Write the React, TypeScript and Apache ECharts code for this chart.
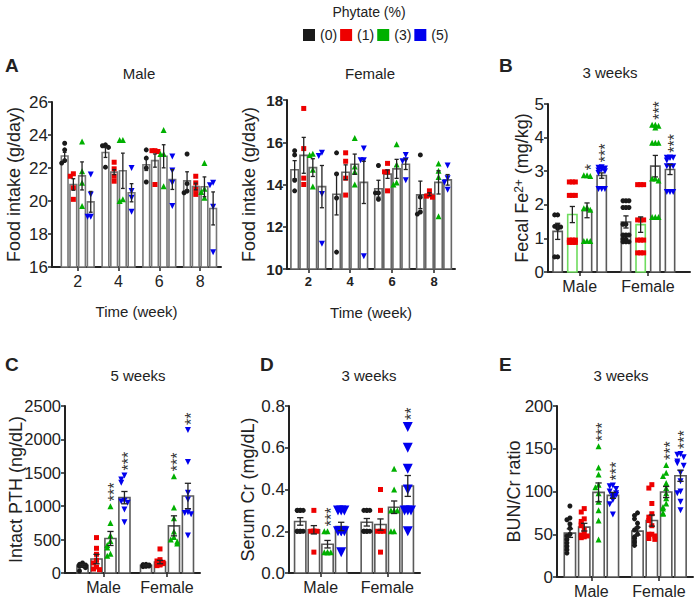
import React, { useEffect, useRef } from "react";
import * as echarts from "echarts";

const FONT = "'Liberation Sans', Arial, Helvetica, sans-serif";
const INK = "#222222";

const GROUPS = ["(0)", "(1)", "(3)", "(5)"];
const COLORS = ["#1a1a1a", "#ee0000", "#00b000", "#0000ee"];
const SYMBOLS = ["circle", "rect", "triangle", "triangle"];
const SYMBOL_ROT = [0, 0, 0, 180];

const WEEKS = ["2", "4", "6", "8"];
const SEXES = ["Male", "Female"];

// ---------- A: Food intake, male (by group, by week) ----------
const A_MALE_MEAN = [
  [22.73, 22.94, 22.2, 21.22],
  [21.0, 21.75, 22.45, 20.88],
  [21.52, 21.83, 22.71, 20.86],
  [19.95, 20.5, 21.3, 19.55],
];
const A_MALE_SEM = [
  [0.22, 0.3, 0.35, 0.55],
  [0.35, 0.15, 0.4, 0.2],
  [0.85, 1.07, 0.7, 0.6],
  [0.63, 0.55, 0.6, 1.0],
];
const A_MALE_PTS = [
  [[23.5, 23.1, 22.45, 22.3], [23.4, 23.35, 23.25, 22.05], [23.1, 22.6, 22.0, 21.15], [22.85, 21.05, 20.6, 20.5]],
  [[21.65, 21.5, 20.8, 20.1], [22.35, 21.95, 21.5, 21.2], [23.05, 23.05, 23.0, 21.0], [21.5, 21.1, 20.7, 20.4]],
  [[23.6, 21.8, 21.1, 19.7], [23.7, 23.7, 20.1, 20.0], [24.3, 22.85, 22.85, 20.9], [22.3, 20.75, 20.55, 20.2]],
  [[21.6, 20.4, 19.05, 19.05], [22.0, 20.6, 20.2, 19.35], [22.7, 21.85, 21.1, 19.7], [21.1, 20.95, 19.65, 16.9]],
];

// ---------- A: Food intake, female ----------
const A_FEMALE_MEAN = [
  [14.7, 13.54, 13.8, 13.51],
  [15.38, 14.58, 14.49, 13.54],
  [14.8, 14.96, 14.74, 14.1],
  [13.9, 14.1, 14.96, 14.22],
];
const A_FEMALE_SEM = [
  [0.43, 0.98, 0.4, 0.65],
  [0.85, 0.35, 0.2, 0.07],
  [0.42, 0.48, 0.45, 0.55],
  [1.0, 1.0, 0.25, 0.25],
];
const A_FEMALE_PTS = [
  [[15.6, 15.4, 14.2, 13.7], [15.5, 14.5, 13.36, 10.8], [14.9, 13.6, 13.6, 13.3], [15.4, 13.4, 12.7, 12.6]],
  [[17.6, 15.7, 14.3, 14.0], [15.5, 15.1, 14.3, 13.5], [15.0, 14.6, 14.6, 13.7], [13.7, 13.5, 13.45, 13.4]],
  [[15.45, 15.4, 14.7, 13.9], [16.2, 14.85, 14.6, 14.0], [15.9, 14.95, 14.1, 14.0], [15.0, 14.65, 14.35, 12.5]],
  [[15.5, 15.35, 13.55, 11.2], [15.7, 15.15, 15.15, 10.6], [15.4, 15.15, 15.1, 14.2], [14.9, 14.3, 14.1, 13.75]],
];

// ---------- B: Fecal Fe2+, 3 weeks (by group, [male, female]) ----------
const B_MEAN = [[1.21, 1.49], [1.71, 1.41], [1.835, 3.15], [2.87, 3.05]];
const B_SEM = [[0.24, 0.18], [0.24, 0.23], [0.22, 0.32], [0.08, 0.15]];
const B_PTS = [
  [[1.7, 1.7, 1.38, 1.36, 1.34, 1.3, 0.45, 0.45],
   [2.12, 2.12, 2.12, 1.92, 1.92, 1.92, 1.42, 1.42, 1.1, 1.1, 1.1, 0.98, 0.98, 0.9, 0.9, 0.9]],
  [[2.68, 2.68, 2.68, 2.28, 2.28, 2.28, 0.95, 0.95, 0.95, 0.88, 0.88, 0.88],
   [2.6, 2.6, 2.6, 1.55, 1.55, 1.55, 0.95, 0.95, 0.95, 0.57, 0.57, 0.57]],
  [[2.88, 2.88, 2.86, 1.93, 1.9, 1.85, 0.93, 0.92, 0.92],
   [4.38, 4.38, 4.35, 4.3, 3.85, 3.85, 3.85, 2.78, 2.78, 2.72, 1.64, 1.64, 1.64]],
  [[3.12, 3.1, 3.08, 3.05, 3.02, 3.0, 2.95, 2.47, 2.47, 2.47],
   [3.4, 3.4, 3.4, 3.4, 3.32, 3.15, 3.15, 3.15, 2.38, 2.38, 2.38]],
];
const B_SIG = [["", ""], ["", ""], ["*", "***"], ["***", "***"]];

// ---------- C: Intact PTH, 5 weeks ----------
const C_MEAN = [[114, 114], [209, 164], [517, 706], [1128, 1153]];
const C_SEM = [[15, 8], [70, 25], [105, 150], [92, 190]];
const C_PTS = [
  [[150, 130, 120, 110, 100, 95, 80, 30], [130, 125, 120, 115, 110, 105, 100, 95]],
  [[530, 370, 280, 190, 150, 90, 60, 50], [360, 200, 180, 160, 140, 130, 120, 110]],
  [[1000, 750, 560, 480, 420, 380, 290, 260], [1450, 980, 820, 620, 540, 500, 470, 440]],
  [[1460, 1400, 1350, 1080, 1070, 1050, 950, 760], [2140, 1660, 1200, 1100, 910, 900, 880, 560]],
];
const C_SIG = [["", ""], ["", ""], ["***", "***"], ["***", "**"]];

// ---------- D: Serum Cr, 3 weeks ----------
const D_MEAN = [[0.247, 0.243], [0.207, 0.232], [0.138, 0.315], [0.223, 0.417]];
const D_SEM = [[0.018, 0.018], [0.02, 0.027], [0.018, 0.03], [0.02, 0.05]];
const D_PTS = [
  [[0.3, 0.3, 0.3, 0.3, 0.3, 0.2, 0.2, 0.2, 0.2, 0.2], [0.3, 0.3, 0.3, 0.3, 0.2, 0.2, 0.2, 0.2, 0.2]],
  [[0.3, 0.2, 0.2, 0.2, 0.2, 0.1], [0.4, 0.3, 0.2, 0.2, 0.2, 0.1]],
  [[0.2, 0.2, 0.1, 0.1, 0.1, 0.1], [0.5, 0.4, 0.3, 0.3, 0.3, 0.2, 0.2]],
  [[0.3, 0.3, 0.3, 0.2, 0.2, 0.2, 0.2, 0.1], [0.7, 0.6, 0.5, 0.4, 0.3, 0.3, 0.3, 0.2]],
];
const D_SIG = [["", ""], ["", ""], ["***", ""], ["", "**"]];

// ---------- E: BUN/Cr ratio, 3 weeks ----------
const E_MEAN = [[51.3, 53.6], [58.3, 66], [99, 99.4], [95.5, 118.4]];
const E_SEM = [[5, 4.5], [4.5, 6.5], [11, 6.5], [3.5, 6.5]];
const E_PTS = [
  [[83, 69, 67, 62, 57, 50, 48, 44, 40, 36, 32, 28], [75, 72, 68, 63, 58, 55, 50, 47, 45, 42, 40, 37]],
  [[80, 76, 68, 65, 62, 60, 55, 50, 49, 48, 47, 46], [108, 104, 86, 74, 70, 66, 60, 50, 50, 48, 45, 44]],
  [[153, 128, 120, 108, 105, 98, 88, 78, 66, 44], [131, 122, 118, 110, 104, 98, 92, 86, 82, 80, 75, 74]],
  [[107, 106, 103, 100, 98, 96, 95, 94, 92, 90, 85, 73], [144, 143, 140, 135, 133, 130, 122, 112, 100, 98, 88, 78]],
];
const E_SIG = [["", ""], ["", ""], ["***", "***"], ["***", "***"]];

type Panel = {
  cats: string[];
  mean: number[][];
  sem: number[][];
  pts: number[][][];
  sig?: string[][];
  left: number; top: number; width: number; height: number;
  catPx: number; xMin: number;
  yMin: number; yMax: number; yInt: number; yDec: number;
  barW: number; step: number;
  yName: string; yNameGap: number; yRich?: any;
  xName?: string; xNameGap?: number;
  bold?: boolean; xFont: number; yFont: number;
  sym: number[];
  border?: string[];
};

const BORDER = "#5a5a5a";

const PANELS: Panel[] = [
  {
    cats: WEEKS, mean: A_MALE_MEAN, sem: A_MALE_SEM, pts: A_MALE_PTS,
    left: 52, top: 102, width: 169, height: 165, catPx: 40.8, xMin: -0.63,
    yMin: 16, yMax: 26, yInt: 2, yDec: 0, barW: 0.164, step: 0.213,
    yName: "Food intake (g/day)", yNameGap: 29, xName: "Time (week)", xNameGap: 37,
    xFont: 16, yFont: 17, sym: [5, 5, 6, 6], border: ["#777", "#777", "#777", "#777"],
  },
  {
    cats: WEEKS, mean: A_FEMALE_MEAN, sem: A_FEMALE_SEM, pts: A_FEMALE_PTS,
    left: 287, top: 100, width: 168, height: 169, catPx: 41.9, xMin: -0.508,
    yMin: 10, yMax: 18, yInt: 2, yDec: 0, barW: 0.178, step: 0.217,
    yName: "Food intake (g/day)", yNameGap: 29, xName: "Time (week)", xNameGap: 36,
    bold: true, xFont: 13, yFont: 15, sym: [5, 5, 6, 6], border: ["#666", "#666", "#666", "#666"],
  },
  {
    cats: SEXES, mean: B_MEAN, sem: B_SEM, pts: B_PTS, sig: B_SIG,
    left: 548, top: 104, width: 142, height: 168, catPx: 68.3, xMin: -0.464,
    yMin: 0, yMax: 5, yInt: 1, yDec: 0, barW: 0.136, step: 0.215,
    yName: "Fecal Fe{sup|2+} (mg/kg)", yNameGap: 17,
    yRich: { sup: { fontSize: 12, verticalAlign: "top", fontFamily: FONT, color: INK } },
    xFont: 16, yFont: 17, sym: [5, 5, 6, 6], border: [BORDER, "#6fdc5f", BORDER, BORDER],
  },
  {
    cats: SEXES, mean: C_MEAN, sem: C_SEM, pts: C_PTS, sig: C_SIG,
    left: 65, top: 406, width: 135, height: 167, catPx: 63.5, xMin: -0.606,
    yMin: 0, yMax: 2500, yInt: 500, yDec: 0, barW: 0.175, step: 0.22,
    yName: "Intact PTH (ng/dL)", yNameGap: 40,
    xFont: 16, yFont: 16.5, sym: [5, 5, 6, 6],
  },
  {
    cats: SEXES, mean: D_MEAN, sem: D_SEM, pts: D_PTS, sig: D_SIG,
    left: 289, top: 406, width: 131, height: 167, catPx: 66.6, xMin: -0.476,
    yMin: 0, yMax: 0.8, yInt: 0.2, yDec: 1, barW: 0.17, step: 0.205,
    yName: "Serum Cr (mg/dL)", yNameGap: 32,
    xFont: 16, yFont: 17, sym: [5, 5, 6, 10],
  },
  {
    cats: SEXES, mean: E_MEAN, sem: E_SEM, pts: E_PTS, sig: E_SIG,
    left: 557, top: 406, width: 136, height: 171, catPx: 67.6, xMin: -0.509,
    yMin: 0, yMax: 200, yInt: 50, yDec: 0, barW: 0.167, step: 0.212,
    yName: "BUN/Cr ratio", yNameGap: 34,
    xFont: 16, yFont: 17, sym: [5, 5, 6, 6],
  },
];

// horizontal spread of overlapping points (layout only), kept within the bar
function swarm(vals: number[], thr: number, dx: number, maxIdx: number): number[] {
  const placed: number[] = [];
  const cycle = 2 * maxIdx + 1;
  return vals.map((v) => {
    let near = placed.filter((p) => Math.abs(p - v) < thr).length;
    placed.push(v);
    near = near % cycle;
    const k = Math.ceil(near / 2);
    const idx = near === 0 ? 0 : near % 2 === 1 ? -k : k;
    return idx * dx;
  });
}

function buildOption() {
  const grid: any[] = [];
  const xAxis: any[] = [];
  const yAxis: any[] = [];
  const series: any[] = [];

  PANELS.forEach((p, pi) => {
    const xMax = p.xMin + p.width / p.catPx;
    const ticks = p.cats.map((_, i) => i);
    grid.push({ left: p.left, top: p.top, width: p.width, height: p.height, containLabel: false, outerBoundsMode: "none" });
    xAxis.push({
      type: "value", gridIndex: pi, min: p.xMin, max: xMax,
      name: p.xName, nameLocation: "middle", nameGap: p.xNameGap, nameMoveOverlap: false,
      nameTextStyle: { fontSize: 15, color: INK, fontFamily: FONT },
      axisLine: { show: true, onZero: false, lineStyle: { color: INK, width: 2 } },
      axisTick: { show: true, customValues: ticks, length: 4, lineStyle: { color: INK, width: 1.5 } },
      axisLabel: {
        customValues: ticks, margin: 6, fontSize: p.xFont, color: INK, fontFamily: FONT,
        fontWeight: p.bold ? "bold" : "normal",
        formatter: (v: number) => p.cats[Math.round(v)] ?? "",
      },
      splitLine: { show: false },
    });
    yAxis.push({
      type: "value", gridIndex: pi, min: p.yMin, max: p.yMax, interval: p.yInt,
      name: p.yName, nameLocation: "middle", nameGap: p.yNameGap, nameMoveOverlap: false,
      nameTextStyle: { fontSize: 18, color: INK, fontFamily: FONT, rich: p.yRich },
      axisLine: { show: true, onZero: false, lineStyle: { color: INK, width: 2 } },
      axisTick: { show: true, length: 4, lineStyle: { color: INK, width: 1.5 } },
      axisLabel: {
        margin: 4, fontSize: p.yFont, color: INK, fontFamily: FONT,
        fontWeight: p.bold ? "bold" : "normal",
        formatter: (v: number) => v.toFixed(p.yDec),
      },
      splitLine: { show: false },
    });

    for (let g = 0; g < 4; g++) {
      const off = (g - 1.5) * p.step;
      const border = p.border ? p.border[g] : BORDER;
      const barData = p.mean[g].map((m, c) => [c, m, p.sem[g][c]]);

      // bars
      series.push({
        type: "custom", name: `bar-${pi}-${g}`, xAxisIndex: pi, yAxisIndex: pi, z: 2, silent: true,
        data: barData, encode: { x: 0, y: 1 },
        renderItem: (params: any, api: any) => {
          const c = api.value(0), m = api.value(1);
          const xc = c + off;
          const tl = api.coord([xc - p.barW / 2, m]);
          const br = api.coord([xc + p.barW / 2, p.yMin]);
          return {
            type: "rect",
            shape: { x: tl[0], y: tl[1], width: br[0] - tl[0], height: br[1] - tl[1] },
            style: { fill: "#ffffff", stroke: border, lineWidth: 1.6 },
          };
        },
      });

      // points
      const barPx = p.barW * p.catPx;
      const dxPx = Math.min(p.sym[g] * 0.6, 3.2);
      const maxIdx = Math.max(1, Math.floor((barPx / 2 - 1) / dxPx));
      const thr = (p.sym[g] * 0.8 / p.height) * (p.yMax - p.yMin);
      const dx = dxPx / p.catPx;
      const pts: number[][] = [];
      p.pts[g].forEach((vals, c) => {
        const offs = swarm(vals, thr, dx, maxIdx);
        vals.forEach((v, i) => pts.push([c + off + offs[i], v]));
      });
      series.push({
        type: "scatter", name: GROUPS[g], xAxisIndex: pi, yAxisIndex: pi, z: 3, silent: true,
        data: pts, symbol: SYMBOLS[g], symbolRotate: SYMBOL_ROT[g], symbolSize: p.sym[g],
        itemStyle: { color: COLORS[g], opacity: 1 },
      });

      // error bars (mean ± SEM)
      series.push({
        type: "custom", name: `err-${pi}-${g}`, xAxisIndex: pi, yAxisIndex: pi, z: 4, silent: true,
        data: barData, encode: { x: 0, y: 1 },
        renderItem: (params: any, api: any) => {
          const c = api.value(0), m = api.value(1), s = api.value(2);
          const xc = c + off;
          const hi = api.coord([xc, m + s]);
          const lo = api.coord([xc, m - s]);
          const cap = barPx * 0.28;
          const st = { stroke: INK, lineWidth: 1.3 };
          return {
            type: "group",
            children: [
              { type: "line", shape: { x1: hi[0], y1: hi[1], x2: lo[0], y2: lo[1] }, style: st },
              { type: "line", shape: { x1: hi[0] - cap, y1: hi[1], x2: hi[0] + cap, y2: hi[1] }, style: st },
              { type: "line", shape: { x1: lo[0] - cap, y1: lo[1], x2: lo[0] + cap, y2: lo[1] }, style: st },
            ],
          };
        },
      });

      // significance marks above the highest point
      if (p.sig) {
        const sigRows = p.sig[g]
          .map((t, c) => ({ t, c, top: Math.max(...p.pts[g][c]) }))
          .filter((r) => r.t !== "");
        if (sigRows.length) {
          const symHalf = p.sym[g] / 2;
          series.push({
            type: "custom", name: `sig-${pi}-${g}`, xAxisIndex: pi, yAxisIndex: pi, z: 5, silent: true,
            data: sigRows.map((r) => [r.c, r.top]), encode: { x: 0, y: 1 },
            renderItem: (params: any, api: any) => {
              const r = sigRows[params.dataIndex];
              const pos = api.coord([api.value(0) + off, api.value(1)]);
              return {
                type: "text",
                x: pos[0] + 4,
                y: pos[1] - symHalf - 2,
                rotation: Math.PI / 2,
                style: {
                  text: r.t, fontSize: 16, fontFamily: FONT, fill: "#333",
                  align: "left", verticalAlign: "middle",
                  textAlign: "left", textVerticalAlign: "middle",
                },
              };
            },
          });
        }
      }
    }
  });

  const txt = (text: string, x: number, y: number, size: number, bold = false, align = "center") => ({
    type: "text", x, y, silent: true,
    style: {
      text, fontSize: size, fontFamily: FONT, fontWeight: bold ? "bold" : "normal", fill: INK,
      align, verticalAlign: "middle", textAlign: align, textVerticalAlign: "middle",
    },
  });

  const graphic = [
    txt("Phytate (%)", 369, 12, 14),
    txt("A", 5, 65, 19, true, "left"),
    txt("B", 499, 65, 19, true, "left"),
    txt("C", 5, 364, 19, true, "left"),
    txt("D", 260, 364, 19, true, "left"),
    txt("E", 499, 364, 19, true, "left"),
    txt("Male", 139, 73, 15),
    txt("Female", 370, 73, 15),
    txt("3 weeks", 610, 72, 15),
    txt("5 weeks", 138, 375, 15),
    txt("3 weeks", 369, 375, 15),
    txt("3 weeks", 621, 375, 15),
  ];

  return {
    animation: false,
    backgroundColor: "#ffffff",
    textStyle: { fontFamily: FONT },
    legend: {
      data: GROUPS.map((n) => ({ name: n, icon: "rect" })),
      left: 298, top: 23, itemWidth: 12, itemHeight: 12, itemGap: 3,
      selectedMode: false,
      textStyle: { fontSize: 14, color: INK, fontFamily: FONT },
    },
    grid, xAxis, yAxis, series, graphic,
  };
}

export default function App() {
  const ref = useRef<HTMLDivElement>(null);
  useEffect(() => {
    if (!ref.current) return;
    const chart = echarts.init(ref.current, null, { renderer: "svg" });
    chart.setOption(buildOption() as any);
    return () => chart.dispose();
  }, []);
  return (
    <div
      ref={ref}
      style={{ position: "absolute", left: 0, top: 0, width: 700, height: 605, background: "#fff" }}
    />
  );
}
